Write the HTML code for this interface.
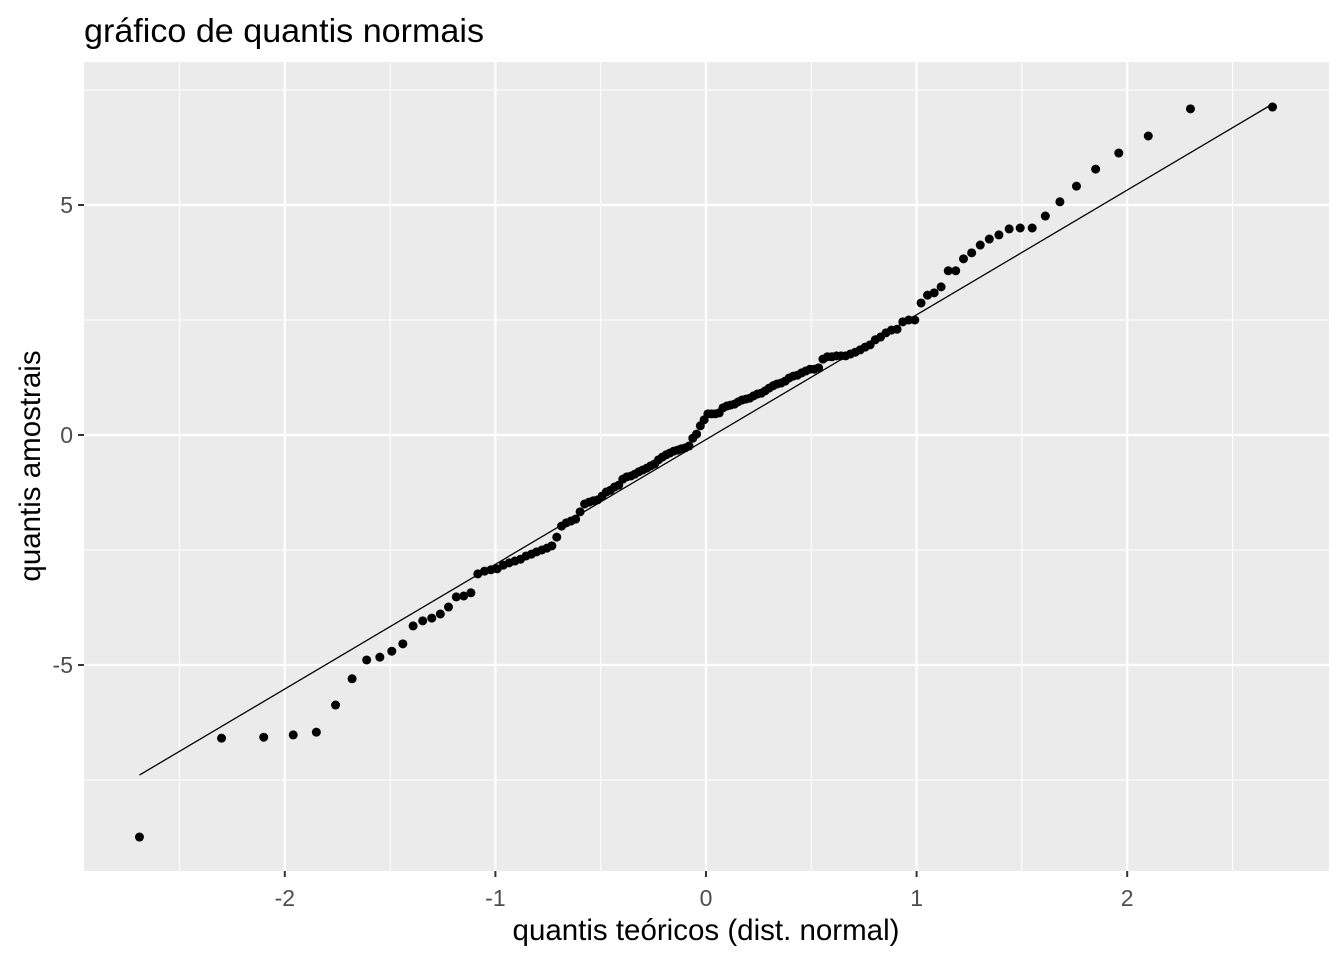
<!DOCTYPE html>
<html><head><meta charset="utf-8">
<style>
html,body{margin:0;padding:0;background:#fff;}
svg{display:block;font-family:"Liberation Sans",Arial,sans-serif;}
</style></head>
<body>
<svg id="chart" width="1344" height="960" viewBox="0 0 1344 960" xmlns="http://www.w3.org/2000/svg">
<rect x="0" y="0" width="1344" height="960" fill="#fff"/>
<text x="84" y="42" font-size="33" textLength="400" lengthAdjust="spacingAndGlyphs" fill="#000">gráfico de quantis normais</text>
<rect x="84" y="62" width="1245" height="809" fill="#ebebeb"/>
<g id="grid"></g>
<g id="axes"></g>
<g id="marks"></g>
<text x="706" y="940" font-size="29.5" text-anchor="middle" fill="#000">quantis teóricos (dist. normal)</text>
<text transform="translate(40,466) rotate(-90)" font-size="29.5" text-anchor="middle" fill="#000">quantis amostrais</text>
</svg>
<script>
const sampleValues = [-8.74,-6.59,-6.57,-6.52,-6.46,-5.87,-5.30,-4.89,-4.83,-4.70,
-4.54,-4.15,-4.04,-3.98,-3.89,-3.74,-3.52,-3.50,-3.43,-3.02,
-2.96,-2.93,-2.91,-2.83,-2.78,-2.74,-2.70,-2.63,-2.59,-2.54,
-2.50,-2.46,-2.41,-2.22,-1.98,-1.91,-1.87,-1.83,-1.67,-1.50,
-1.46,-1.43,-1.41,-1.33,-1.24,-1.20,-1.13,-1.09,-0.96,-0.91,
-0.89,-0.85,-0.80,-0.76,-0.72,-0.67,-0.63,-0.54,-0.48,-0.43,
-0.39,-0.35,-0.33,-0.30,-0.28,-0.24,-0.07,0.02,0.20,0.33,
0.46,0.46,0.46,0.48,0.59,0.63,0.65,0.67,0.72,0.76,
0.78,0.80,0.85,0.89,0.91,0.96,1.02,1.07,1.11,1.13,
1.17,1.24,1.28,1.30,1.35,1.39,1.43,1.43,1.46,1.65,
1.70,1.70,1.72,1.72,1.72,1.76,1.80,1.85,1.91,1.96,
2.07,2.13,2.22,2.28,2.30,2.46,2.50,2.50,2.87,3.04,
3.09,3.22,3.57,3.57,3.83,3.96,4.13,4.26,4.35,4.48,
4.50,4.50,4.76,5.07,5.41,5.78,6.13,6.50,7.09,7.13];
const xTicks = [-2,-1,0,1,2];
const xTickLabels = ["-2","-1","0","1","2"];
const yTicks = [-5,0,5];
const yTickLabels = ["-5","0","5"];
const xMinor = [-2.5,-1.5,-0.5,0.5,1.5,2.5];
const yMinor = [-7.5,-2.5,2.5,7.5];

const NS="http://www.w3.org/2000/svg";
const X0=84,X1=1329,Y0=62,Y1=871;
function sx(v){return 706+210.6*v;}
function sy(v){return 435-46*v;}
function mk(tag,attrs,parent){const e=document.createElementNS(NS,tag);for(const k in attrs)e.setAttribute(k,attrs[k]);parent.appendChild(e);return e;}
function qnorm(p){
 const a=[-39.6968302866538,220.946098424521,-275.928510446969,138.357751867269,-30.6647980661472,2.50662827745924];
 const b=[-54.4760987982241,161.585836858041,-155.698979859887,66.8013118877197,-13.2806815528857];
 const c=[-0.00778489400243029,-0.322396458041136,-2.40075827716184,-2.54973253934373,4.37466414146497,2.93816398269878];
 const d=[0.00778469570904146,0.32246712907004,2.445134137143,3.75440866190742];
 const pl=0.02425;let q,r;
 if(p<pl){q=Math.sqrt(-2*Math.log(p));return (((((c[0]*q+c[1])*q+c[2])*q+c[3])*q+c[4])*q+c[5])/((((d[0]*q+d[1])*q+d[2])*q+d[3])*q+1);}
 if(p>1-pl){q=Math.sqrt(-2*Math.log(1-p));return -(((((c[0]*q+c[1])*q+c[2])*q+c[3])*q+c[4])*q+c[5])/((((d[0]*q+d[1])*q+d[2])*q+d[3])*q+1);}
 q=p-0.5;r=q*q;return (((((a[0]*r+a[1])*r+a[2])*r+a[3])*r+a[4])*r+a[5])*q/(((((b[0]*r+b[1])*r+b[2])*r+b[3])*r+b[4])*r+1);
}
const grid=document.getElementById('grid'),axes=document.getElementById('axes'),marks=document.getElementById('marks');
xMinor.forEach(v=>{const l=mk('line',{x1:sx(v),x2:sx(v),y1:Y0,y2:Y1,stroke:'#fff','stroke-width':1.1},grid);

});
yMinor.forEach(v=>{const l=mk('line',{x1:X0,x2:X1,y1:sy(v),y2:sy(v),stroke:'#fff','stroke-width':1.1},grid);

});
xTicks.forEach((v,i)=>{const l=mk('line',{x1:sx(v),x2:sx(v),y1:Y0,y2:Y1,stroke:'#fff','stroke-width':2.2},grid);


const t=mk('line',{x1:sx(v),x2:sx(v),y1:Y1,y2:Y1+6,stroke:'#333','stroke-width':2},axes);


const tx=mk('text',{x:sx(v),y:906,'font-size':23,'text-anchor':'middle',fill:'#4d4d4d'},axes);tx.textContent=xTickLabels[i];

});
yTicks.forEach((v,i)=>{const l=mk('line',{x1:X0,x2:X1,y1:sy(v),y2:sy(v),stroke:'#fff','stroke-width':2.2},grid);


const t=mk('line',{x1:X0-6,x2:X0,y1:sy(v),y2:sy(v),stroke:'#333','stroke-width':2},axes);


const tx=mk('text',{x:X0-11,y:sy(v)+8,'font-size':23,'text-anchor':'end',fill:'#4d4d4d'},axes);tx.textContent=yTickLabels[i];

});
const n=sampleValues.length;
const sorted=sampleValues.slice().sort((a,b)=>a-b);
const theo=sorted.map((_,i)=>qnorm((i+0.5)/n));
function quant(arr,p){const h=(arr.length-1)*p,lo=Math.floor(h),hi=Math.ceil(h);return arr[lo]+(h-lo)*(arr[hi]-arr[lo]);}
const y1q=quant(sorted,0.25),y3q=quant(sorted,0.75),x1q=qnorm(0.25),x3q=qnorm(0.75);
const slope=(y3q-y1q)/(x3q-x1q),icpt=y1q-slope*x1q;
const xa=theo[0],xb=theo[n-1];
const ln=mk('line',{x1:sx(xa),y1:sy(icpt+slope*xa),x2:sx(xb),y2:sy(icpt+slope*xb),stroke:'#000','stroke-width':1.3},marks);


sorted.forEach((v,i)=>{const c=mk('circle',{cx:sx(theo[i]),cy:sy(v),r:4.5,fill:'#000'},marks);

});
</script>
</body></html>
